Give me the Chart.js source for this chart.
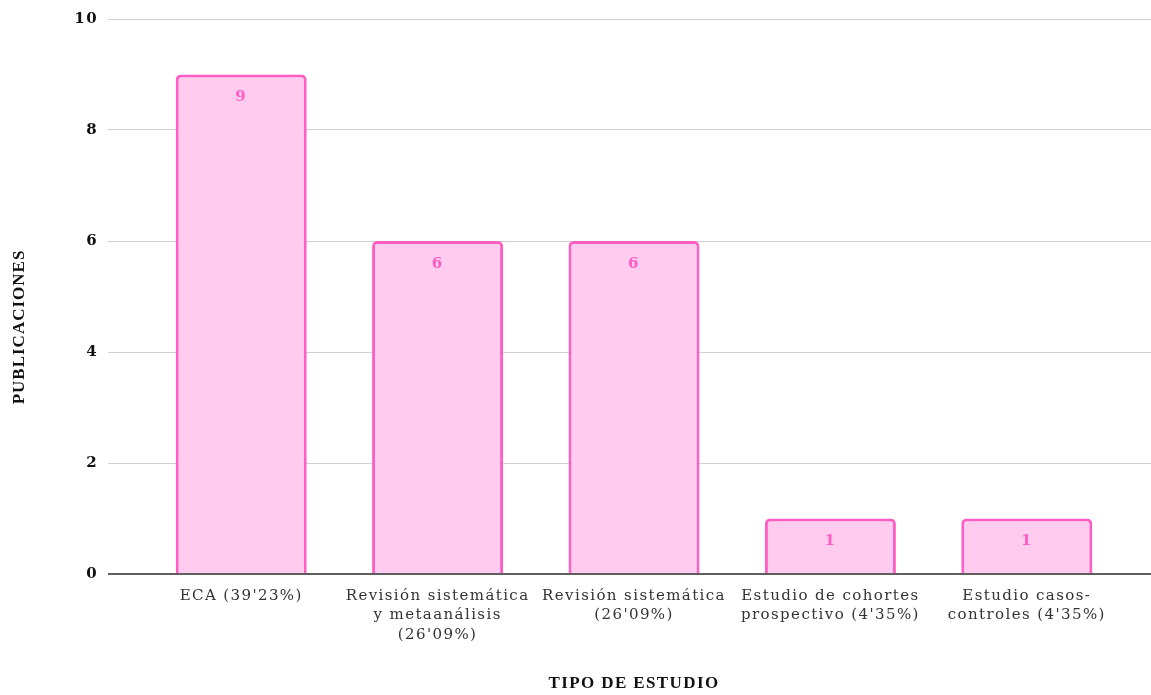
<!DOCTYPE html>
<html>
<head>
<meta charset="utf-8">
<script src="https://cdn.jsdelivr.net/npm/chart.js@4.4.1/dist/chart.umd.min.js"></script>
<style>
  html, body { margin: 0; padding: 0; background: #ffffff; }
  #wrap { width: 1151px; height: 695px; }
</style>
</head>
<body>
<div id="wrap"><canvas id="c" width="1151" height="695"></canvas></div>
<script>
// Study types and number of publications of each type
const categories = [
  "ECA (39'23%)",
  ["Revisión sistemática", "y metaanálisis", "(26'09%)"],
  ["Revisión sistemática", "(26'09%)"],
  ["Estudio de cohortes", "prospectivo (4'35%)"],
  ["Estudio casos-", "controles (4'35%)"]
];
const publicaciones = [9, 6, 6, 1, 1];
const yTicks = [0, 2, 4, 6, 8, 10];
const yTitle = 'PUBLICACIONES';

const SERIF = "'DejaVu Serif', 'Liberation Serif', serif";
const TITLE_FONT = "'Liberation Serif', serif";
const PINK = '#ff5cc4';
const PINK_FILL = '#ffcbee';

const gridColor = ctx => (ctx.tick && ctx.tick.value === 0) ? '#5f5f5f' : '#d0d0d0';
const gridWidth = ctx => (ctx.tick && ctx.tick.value === 0) ? 2 : 1;

// Wide letter spacing for all text on the canvas
const spacing = {
  id: 'spacing',
  beforeDraw(chart) { chart.ctx.letterSpacing = '1.4px'; }
};

// Writes each bar's value just inside its top edge
const valueLabels = {
  id: 'valueLabels',
  afterDatasetsDraw(chart) {
    const { ctx } = chart;
    const meta = chart.getDatasetMeta(0);
    ctx.save();
    ctx.fillStyle = PINK;
    ctx.font = 'bold 15px ' + SERIF;
    ctx.textAlign = 'center';
    ctx.textBaseline = 'middle';
    meta.data.forEach((bar, i) => {
      ctx.fillText(String(chart.data.datasets[0].data[i]), bar.x, bar.y + 23);
    });
    ctx.restore();
  }
};

// Vertical title of the value axis
const yAxisTitle = {
  id: 'yAxisTitle',
  afterDraw(chart) {
    const { ctx } = chart;
    ctx.save();
    ctx.letterSpacing = '1px';
    ctx.translate(20, 327);
    ctx.rotate(-Math.PI / 2);
    ctx.fillStyle = '#111111';
    ctx.font = 'bold 17px ' + TITLE_FONT;
    ctx.textAlign = 'center';
    ctx.textBaseline = 'middle';
    ctx.fillText(yTitle, 0, 0);
    ctx.restore();
  }
};

new Chart(document.getElementById('c'), {
  type: 'bar',
  data: {
    labels: categories,
    datasets: [{
      data: publicaciones,
      backgroundColor: PINK_FILL,
      borderColor: PINK,
      borderWidth: 3,
      borderRadius: { topLeft: 5, topRight: 5, bottomLeft: 0, bottomRight: 0 },
      borderSkipped: 'start',
      categoryPercentage: 1,
      barPercentage: 0.667
    }]
  },
  options: {
    responsive: false,
    animation: false,
    layout: { padding: { top: 13, right: 0, bottom: 0, left: 0 } },
    plugins: {
      legend: { display: false },
      tooltip: { enabled: false }
    },
    scales: {
      x: {
        grid: { display: false },
        border: { display: false },
        ticks: {
          color: '#333333',
          font: { family: SERIF, size: 15, lineHeight: 1.27 },
          padding: 5,
          maxRotation: 0,
          autoSkip: false
        },
        title: {
          display: true,
          text: 'TIPO DE ESTUDIO',
          color: '#111111',
          font: { family: TITLE_FONT, size: 17, weight: 'bold' },
          padding: { top: 0, bottom: 1 }
        },
        afterFit(scale) { scale.height = 121; }
      },
      y: {
        min: 0,
        max: 10,
        afterBuildTicks(scale) { scale.ticks = yTicks.map(v => ({ value: v })); },
        grid: { color: gridColor, lineWidth: gridWidth, tickLength: 35, tickColor: gridColor },
        border: { display: false },
        ticks: {
          color: '#111111',
          font: { family: SERIF, size: 15, weight: 'bold' },
          padding: 10
        },
        title: { display: false },
        afterFit(scale) { scale.width = 143; }
      },
      yRight: {
        position: 'right',
        min: 0,
        max: 10,
        afterBuildTicks(scale) { scale.ticks = yTicks.map(v => ({ value: v })); },
        grid: { drawOnChartArea: false, color: gridColor, lineWidth: gridWidth, tickLength: 26, tickColor: gridColor },
        border: { display: false },
        ticks: { display: false },
        afterFit(scale) { scale.width = 26; }
      }
    }
  },
  plugins: [spacing, valueLabels, yAxisTitle]
});
</script>
</body>
</html>
